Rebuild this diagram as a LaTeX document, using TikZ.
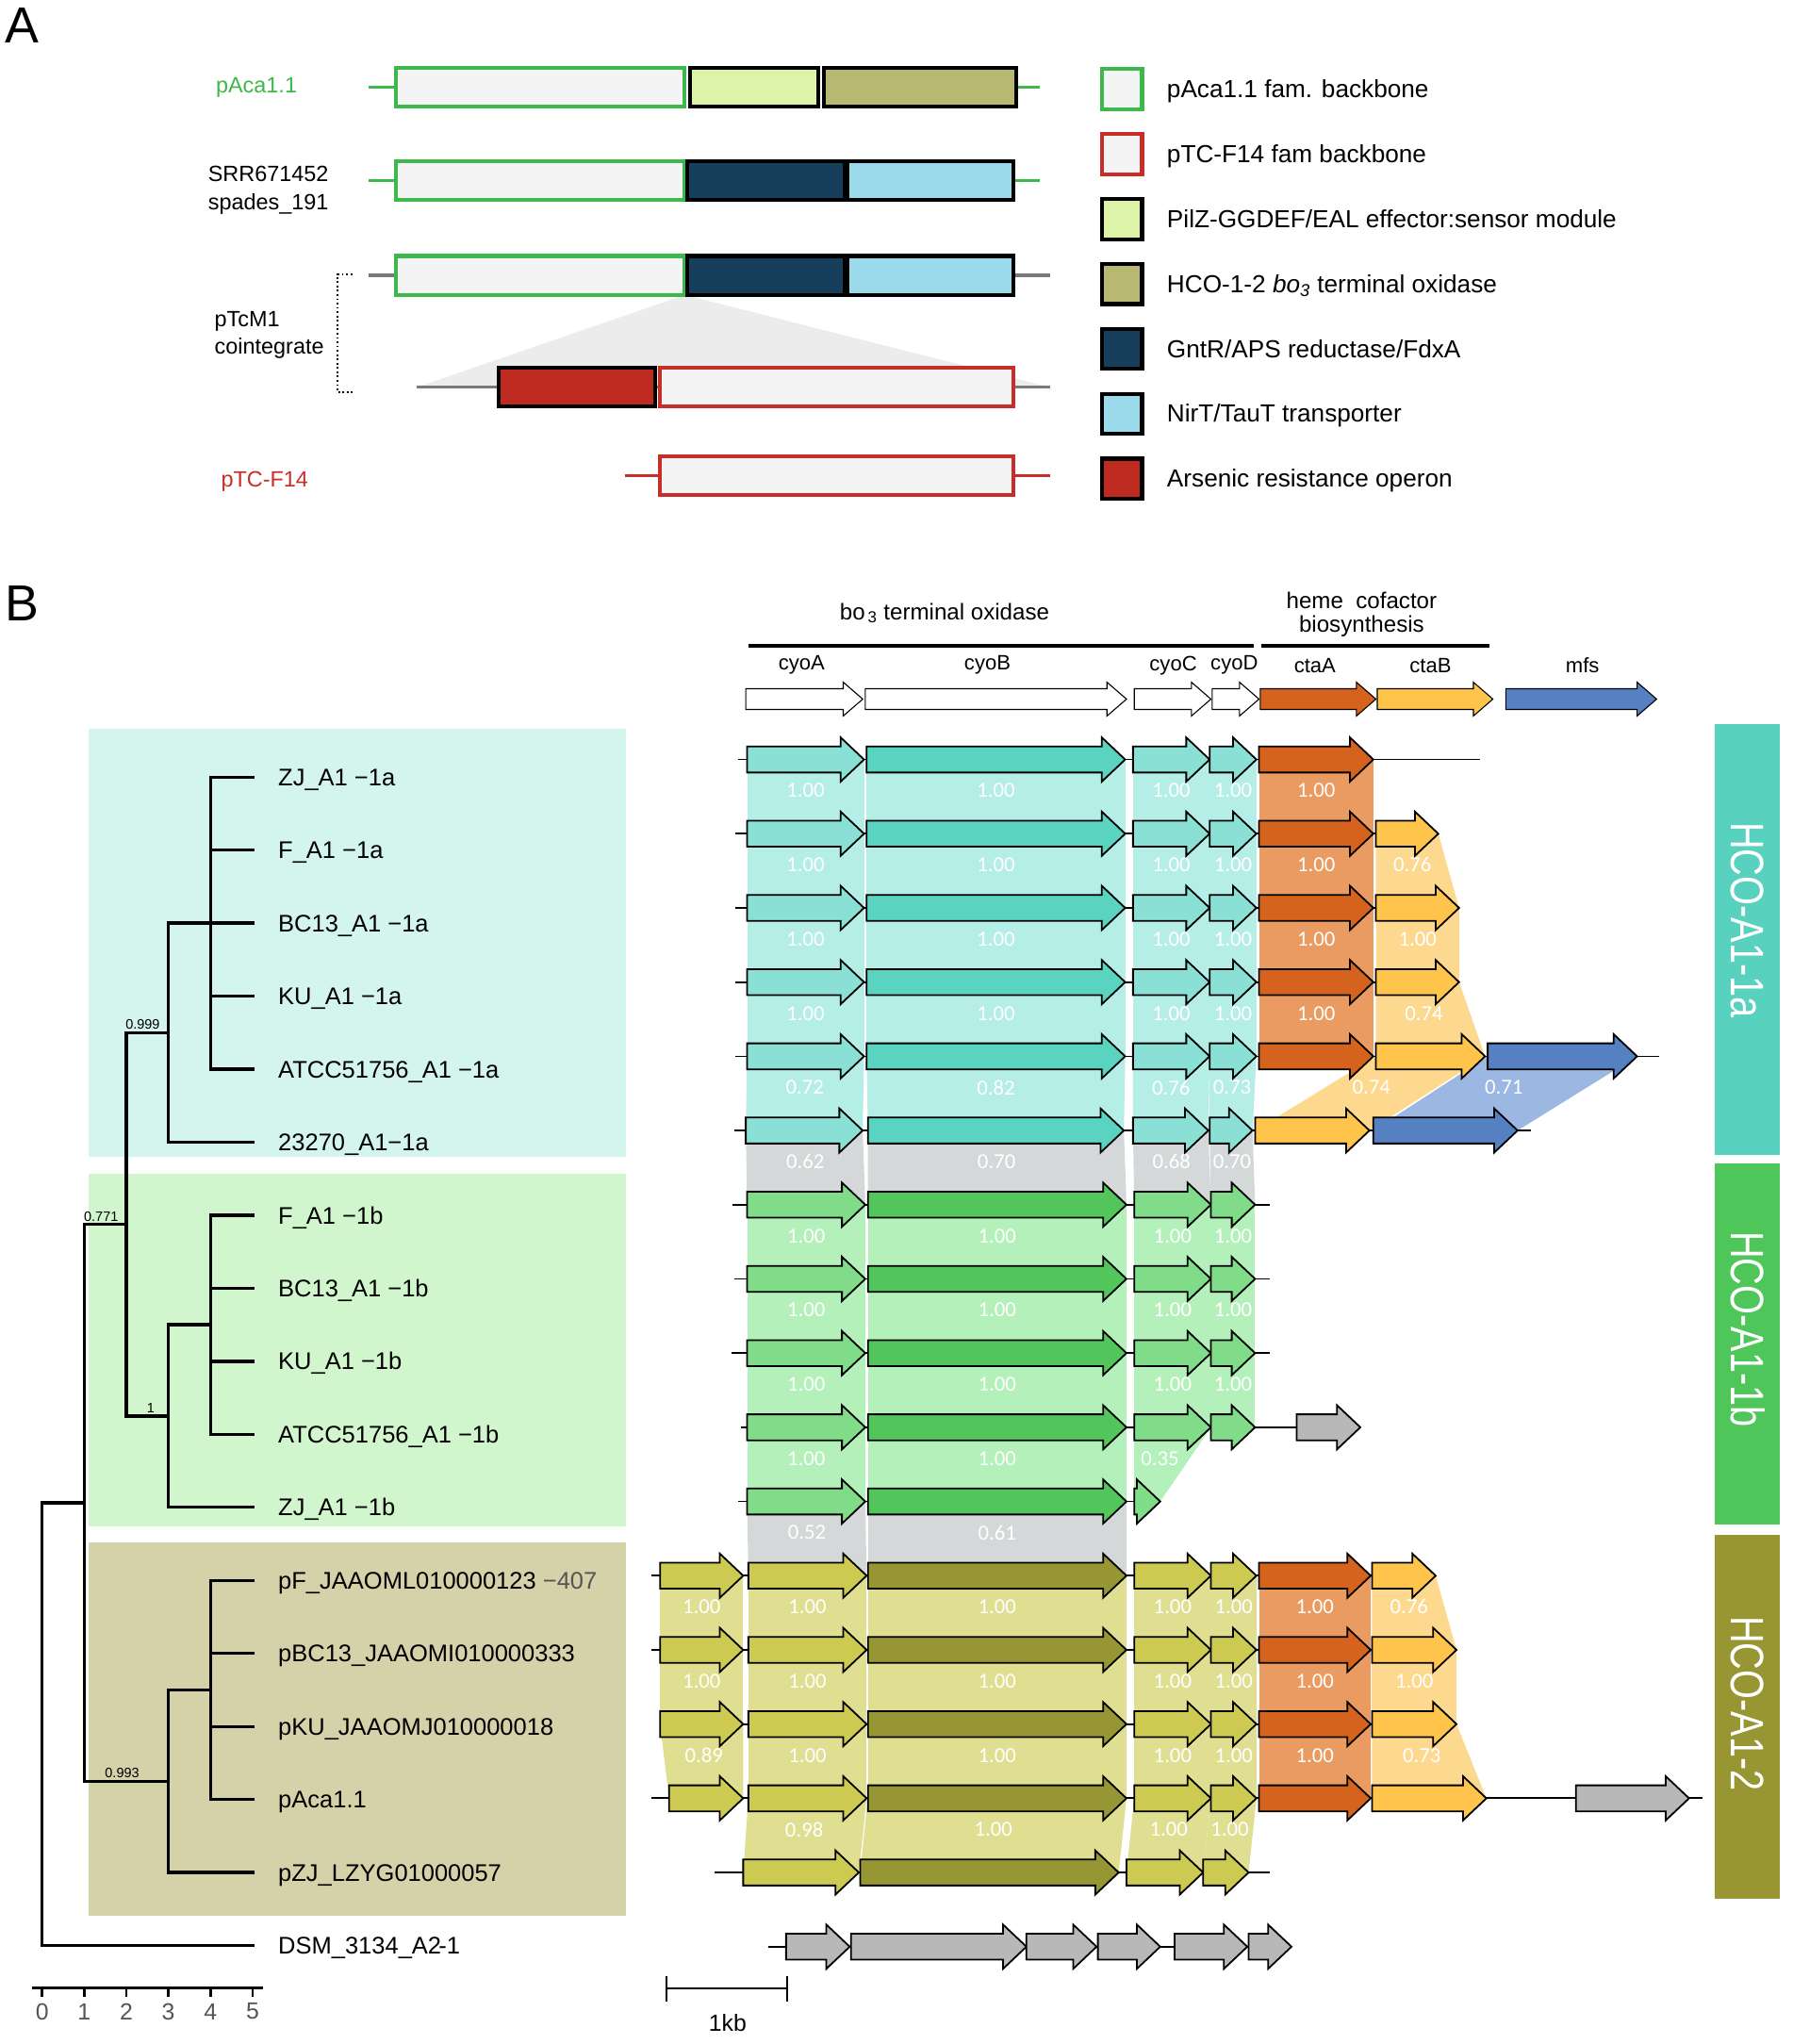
\documentclass[tikz,border=0pt]{standalone}
\usepackage{fontspec}
\setmainfont{Liberation Sans}
\newfontfamily\numfont{Carlito}
\usepackage{graphicx}
\definecolor{pgreen}{HTML}{3DB84A}
\definecolor{pred}{HTML}{C62E27}
\definecolor{pfill}{HTML}{F4F4F4}
\definecolor{pyg}{HTML}{DDF4A8}
\definecolor{polive}{HTML}{B8B872}
\definecolor{pnavy}{HTML}{173F5C}
\definecolor{plblue}{HTML}{9ADAEA}
\definecolor{pars}{HTML}{BE2A20}
\definecolor{pline}{HTML}{7A7A7A}
\definecolor{ptri}{HTML}{ECECEC}
\definecolor{tealL}{HTML}{8AE0D5}
\definecolor{tealD}{HTML}{5AD3C1}
\definecolor{grnL}{HTML}{80DC88}
\definecolor{grnD}{HTML}{52C65B}
\definecolor{olvL}{HTML}{CDCA52}
\definecolor{olvD}{HTML}{979634}
\definecolor{ctaA}{HTML}{D5631D}
\definecolor{ctaB}{HTML}{FFC44C}
\definecolor{mfsC}{HTML}{5580C2}
\definecolor{ggray}{HTML}{B8B8B8}
\definecolor{bTeal}{HTML}{B5EDE7}
\definecolor{bGrn}{HTML}{B4F0B9}
\definecolor{bOlv}{HTML}{DFDE91}
\definecolor{bOra}{HTML}{E99B62}
\definecolor{bYel}{HTML}{FDD98F}
\definecolor{bBlu}{HTML}{9BB7E2}
\definecolor{bGry}{HTML}{D5D8D9}
\definecolor{cTeal}{HTML}{D3F5EE}
\definecolor{cGrn}{HTML}{D1F5CC}
\definecolor{cOlv}{HTML}{D5D1A9}
\definecolor{sTeal}{HTML}{58D1BF}
\definecolor{sGrn}{HTML}{4FC65A}
\definecolor{sOlv}{HTML}{989632}
\definecolor{dgray}{HTML}{555555}
\newcounter{nl}
\newcommand{\gn}[4]{\filldraw[genestyle, fill=#4] ({#1},{#3-10}) -- ({#2-18},{#3-10}) -- ({#2-18},{#3-17}) -- ({#2},{#3}) -- ({#2-18},{#3+17}) -- ({#2-18},{#3+10}) -- ({#1},{#3+10}) -- cycle;}
\newcommand{\hgn}[4]{\filldraw[hgenestyle, fill=#4] ({#1},{#3-8}) -- ({#2-15},{#3-8}) -- ({#2-15},{#3-13}) -- ({#2},{#3}) -- ({#2-15},{#3+13}) -- ({#2-15},{#3+8}) -- ({#1},{#3+8}) -- cycle;}
\newcommand{\gline}[3]{\draw[rowline] ({#1},{#3}) -- ({#2},{#3});}
\newcommand{\bnd}[8]{\fill[#7] ({#1},{#3}) -- ({#2},{#3}) -- ({#5},{#6}) -- ({#4},{#6}) -- cycle;%
  \stepcounter{nl}\node[numlab] (num\arabic{nl}) at ({(#1+#2+#4+#5)/4},{#3+24}) {#8};}
% standard rows
\newcommand{\rowA}[1]{\gn{575}{665}{#1}{tealL}\gn{667}{866}{#1}{tealD}\gn{872}{931}{#1}{tealL}\gn{931}{967}{#1}{tealL}\gn{969}{1057}{#1}{ctaA}}
\newcommand{\rowB}[1]{\gn{575}{666}{#1}{grnL}\gn{668}{867}{#1}{grnD}\gn{873}{932}{#1}{grnL}\gn{932}{966}{#1}{grnL}}
\newcommand{\rowC}[1]{\gn{576}{667}{#1}{olvL}\gn{668}{867}{#1}{olvD}\gn{873}{932}{#1}{olvL}\gn{932}{967}{#1}{olvL}\gn{969}{1055}{#1}{ctaA}}
\newcommand{\bandA}[2]{\bnd{575}{665}{#1}{575}{665}{#2}{bTeal}{1.00}\bnd{667}{866}{#1}{667}{866}{#2}{bTeal}{1.00}\bnd{872}{931}{#1}{872}{931}{#2}{bTeal}{1.00}\bnd{931}{967}{#1}{931}{967}{#2}{bTeal}{1.00}\bnd{969}{1057}{#1}{969}{1057}{#2}{bOra}{1.00}}
\newcommand{\bandB}[2]{\bnd{575}{666}{#1}{575}{666}{#2}{bGrn}{1.00}\bnd{668}{867}{#1}{668}{867}{#2}{bGrn}{1.00}\bnd{873}{932}{#1}{873}{932}{#2}{bGrn}{1.00}\bnd{932}{966}{#1}{932}{966}{#2}{bGrn}{1.00}}
\newcommand{\bandC}[2]{\bnd{576}{667}{#1}{576}{667}{#2}{bOlv}{1.00}\bnd{668}{867}{#1}{668}{867}{#2}{bOlv}{1.00}\bnd{873}{932}{#1}{873}{932}{#2}{bOlv}{1.00}\bnd{932}{967}{#1}{932}{967}{#2}{bOlv}{1.00}\bnd{969}{1055}{#1}{969}{1055}{#2}{bOra}{1.00}}
\begin{document}
\begin{tikzpicture}[x=1pt,y=-1pt,
  genestyle/.style={draw=black, line width=1.3pt, line join=miter},
  hgenestyle/.style={draw=black, line width=0.8pt, line join=miter},
  rowline/.style={draw=black, line width=1.3pt},
  numlab/.style={font=\numfont\fontsize{16.5}{16.5}\selectfont, text=white, inner sep=0pt},
  treeline/.style={line width=2.4pt, line cap=rect},
  leaflab/.style={anchor=base west, inner sep=0pt, font=\fontsize{18.5}{20}\selectfont},
  suplab/.style={inner sep=1pt, font=\fontsize{10.5}{11}\selectfont},
  alab/.style={anchor=base west, inner sep=0pt, font=\fontsize{17}{19}\selectfont},
  leglab/.style={anchor=base west, inner sep=0pt, font=\fontsize{19}{21}\selectfont},
  pbox/.style={line width=3pt},
  hdr/.style={inner sep=0pt, font=\fontsize{17.5}{19}\selectfont},
  glab/.style={inner sep=0pt, font=\fontsize{16}{18}\selectfont},
  panel/.style={anchor=base west, inner sep=0pt, font=\fontsize{39}{40}\selectfont}]
\fill[white] (0,0) rectangle (1380,1573);
\useasboundingbox (0,0) rectangle (1380,1573);

%% ================= Panel A =================
\node[panel] (labA) at (4,33) {A};
% row 1 pAca1.1
\draw[pgreen, line width=2.5pt] (284,67) -- (305,67) (782,67) -- (800,67);
\filldraw[pbox, fill=pfill, draw=pgreen] (305,52) rectangle (527,82);
\filldraw[pbox, fill=pyg, draw=black] (531,52) rectangle (630,82);
\filldraw[pbox, fill=polive, draw=black] (634,52) rectangle (782,82);
% row 2 SRR
\draw[pgreen, line width=2.5pt] (284,139) -- (305,139) (780,139) -- (800,139);
\filldraw[pbox, fill=pfill, draw=pgreen] (305,124) rectangle (527,154);
\filldraw[pbox, fill=pnavy, draw=black] (529,124) rectangle (650,154);
\filldraw[pbox, fill=plblue, draw=black] (652,124) rectangle (780,154);
% row 3 pTcM1 top
\draw[pline, line width=2.5pt] (284,212) -- (305,212) (780,212) -- (808,212);
\fill[ptri] (527,227) -- (321,298) -- (808,298) -- cycle;
\filldraw[pbox, fill=pfill, draw=pgreen] (305,197) rectangle (527,227);
\filldraw[pbox, fill=pnavy, draw=black] (529,197) rectangle (650,227);
\filldraw[pbox, fill=plblue, draw=black] (652,197) rectangle (780,227);
% row 4 cointegrate bottom
\draw[pline, line width=2.5pt] (321,298) -- (808,298);
\filldraw[pbox, fill=pars, draw=black] (384,283) rectangle (504,313);
\filldraw[pbox, fill=pfill, draw=pred] (508,283) rectangle (780,313);
% row 5 pTC-F14
\draw[pred, line width=2.5pt] (481,366) -- (508,366) (780,366) -- (808,366);
\filldraw[pbox, fill=pfill, draw=pred] (508,351) rectangle (780,381);
% bracket
\draw[dotted, line width=1.3pt] (271,211) -- (260,211) -- (260,302) -- (271,302);
% labels
\node[alab, text=pgreen] (tA1) at (166,71.5) {pAca1.1};
\node[alab] (tA2) at (160,139.5) {SRR671452};
\node[alab] (tA3) at (160,161.5) {spades\_191};
\node[alab] (tA4) at (165,251.5) {pTcM1};
\node[alab] (tA5) at (165,272.5) {cointegrate};
\node[alab, text=pred] (tA6) at (170,374.5) {pTC-F14};
% legend
\filldraw[pbox, fill=pfill, draw=pgreen] (848,53) rectangle (879,84);
\filldraw[pbox, fill=pfill, draw=pred] (848,103) rectangle (879,134);
\filldraw[pbox, fill=pyg, draw=black] (848,153) rectangle (879,184);
\filldraw[pbox, fill=polive, draw=black] (848,203) rectangle (879,234);
\filldraw[pbox, fill=pnavy, draw=black] (848,253) rectangle (879,284);
\filldraw[pbox, fill=plblue, draw=black] (848,303) rectangle (879,334);
\filldraw[pbox, fill=pars, draw=black] (848,353) rectangle (879,384);
\node[leglab] (lg1) at (898,75) {pAca1.1 fam. backbone};
\node[leglab] (lg2) at (898,125) {pTC-F14 fam backbone};
\node[leglab] (lg3) at (898,175) {PilZ-GGDEF/EAL effector:sensor module};
\node[leglab] (lg4) at (898,225) {HCO-1-2 \textit{bo\textsubscript{3}} terminal oxidase};
\node[leglab] (lg5) at (898,275) {GntR/APS reductase/FdxA};
\node[leglab] (lg6) at (898,325) {NirT/TauT transporter};
\node[leglab] (lg7) at (898,375) {Arsenic resistance operon};

%% ================= Panel B =================
\node[panel] (labB) at (4,478) {B};
% header
\node[hdr] (hbo) at (727,472) {bo\textsubscript{\,3} terminal oxidase};
\node[hdr] (hheme) at (1048,462) {heme\ \ cofactor};
\node[hdr] (hbio) at (1048,482) {biosynthesis};
\draw[line width=3.5pt] (576,497) -- (965,497);
\draw[line width=3.5pt] (971,497) -- (1146,497);
\node[glab] (gA) at (617,512) {cyoA};
\node[glab] (gB) at (760,512) {cyoB};
\node[glab] (gC) at (903,512) {cyoC};
\node[glab] (gD) at (950,512) {cyoD};
\node[glab] (gE) at (1012,512) {ctaA};
\node[glab] (gF) at (1101,512) {ctaB};
\node[glab] (gG) at (1218,512) {mfs};
\hgn{574}{664}{538}{white}\hgn{666}{867}{538}{white}\hgn{873}{932}{538}{white}\hgn{933}{969}{538}{white}
\hgn{970}{1059}{538}{ctaA}\hgn{1060}{1149}{538}{ctaB}\hgn{1159}{1275}{538}{mfsC}

% clade backgrounds
\fill[cTeal] (68,561) rectangle (482,890);
\fill[cGrn] (68,903) rectangle (482,1175);
\fill[cOlv] (68,1187) rectangle (482,1474);

% ---------- bands ----------
\bandA{584.5}{641.6}
\bandA{641.6}{698.7}
\bnd{1059}{1107}{641.6}{1059}{1123}{698.7}{bYel}{0.76}
\bandA{698.7}{755.8}
\bnd{1059}{1123}{698.7}{1059}{1123}{755.8}{bYel}{1.00}
\bandA{755.8}{812.9}
\bnd{1059}{1123}{755.8}{1059}{1143}{812.9}{bYel}{0.74}
% 4->5
\bnd{575}{665}{812.9}{574}{664}{870.0}{bTeal}{0.72}
\bnd{667}{866}{812.9}{668}{865}{870.0}{bTeal}{0.82}
\bnd{872}{931}{812.9}{872}{930}{870.0}{bTeal}{0.76}
\bnd{931}{967}{812.9}{931}{964}{870.0}{bTeal}{0.73}
\bnd{1059}{1143}{812.9}{966}{1054}{870.0}{bYel}{0.74}
\bnd{1145}{1260}{812.9}{1057}{1168}{870.0}{bBlu}{0.71}
% 5->6 gray
\bnd{574}{664}{870.0}{575}{666}{927.1}{bGry}{0.62}
\bnd{668}{865}{870.0}{668}{867}{927.1}{bGry}{0.70}
\bnd{872}{930}{870.0}{873}{932}{927.1}{bGry}{0.68}
\bnd{931}{964}{870.0}{932}{966}{927.1}{bGry}{0.70}
% green
\bandB{927.1}{984.2}
\bandB{984.2}{1041.3}
\bandB{1041.3}{1098.4}
\bnd{575}{666}{1098.4}{575}{666}{1155.5}{bGrn}{1.00}
\bnd{668}{867}{1098.4}{668}{867}{1155.5}{bGrn}{1.00}
\bnd{873}{932}{1098.4}{873}{893}{1155.5}{bGrn}{0.35}
% 10->11 gray
\bnd{575}{666}{1155.5}{576}{667}{1212.6}{bGry}{0.52}
\bnd{668}{867}{1155.5}{668}{867}{1212.6}{bGry}{0.61}
% olive
\bnd{508}{572}{1212.6}{508}{572}{1269.7}{bOlv}{1.00}
\bandC{1212.6}{1269.7}
\bnd{1056}{1105}{1212.6}{1056}{1121}{1269.7}{bYel}{0.76}
\bnd{508}{572}{1269.7}{508}{572}{1326.8}{bOlv}{1.00}
\bandC{1269.7}{1326.8}
\bnd{1056}{1121}{1269.7}{1056}{1121}{1326.8}{bYel}{1.00}
\bnd{508}{572}{1326.8}{515}{572}{1383.9}{bOlv}{0.89}
\bandC{1326.8}{1383.9}
\bnd{1056}{1121}{1326.8}{1056}{1144}{1383.9}{bYel}{0.73}
\bnd{576}{667}{1383.9}{572}{661}{1441.0}{bOlv}{0.98}
\bnd{668}{867}{1383.9}{662}{861}{1441.0}{bOlv}{1.00}
\bnd{873}{932}{1383.9}{867}{926}{1441.0}{bOlv}{1.00}
\bnd{932}{967}{1383.9}{926}{961}{1441.0}{bOlv}{1.00}

% ---------- gene rows ----------
% HCO-A1-1a
\gline{568}{1139}{584.5}\rowA{584.5}
\gline{566}{1107}{641.6}\rowA{641.6}\gn{1059}{1107}{641.6}{ctaB}
\gline{566}{1123}{698.7}\rowA{698.7}\gn{1059}{1123}{698.7}{ctaB}
\gline{566}{1123}{755.8}\rowA{755.8}\gn{1059}{1123}{755.8}{ctaB}
\gline{566}{1277}{812.9}\rowA{812.9}\gn{1059}{1143}{812.9}{ctaB}\gn{1145}{1260}{812.9}{mfsC}
\gline{565}{1178}{870.0}
\gn{574}{664}{870.0}{tealL}\gn{668}{865}{870.0}{tealD}\gn{872}{930}{870.0}{tealL}\gn{931}{964}{870.0}{tealL}\gn{966}{1054}{870.0}{ctaB}\gn{1057}{1168}{870.0}{mfsC}
% HCO-A1-1b
\gline{564}{977}{927.1}\rowB{927.1}
\gline{565}{977}{984.2}\rowB{984.2}
\gline{563}{977}{1041.3}\rowB{1041.3}
\gline{570}{1047}{1098.4}\rowB{1098.4}\gn{998}{1047}{1098.4}{ggray}
\gline{568}{873}{1155.5}\gn{575}{666}{1155.5}{grnL}\gn{668}{867}{1155.5}{grnD}\gn{873}{893}{1155.5}{grnL}
% HCO-A1-2
\gline{501}{1105}{1212.6}\gn{508}{572}{1212.6}{olvL}\rowC{1212.6}\gn{1056}{1105}{1212.6}{ctaB}
\gline{501}{1121}{1269.7}\gn{508}{572}{1269.7}{olvL}\rowC{1269.7}\gn{1056}{1121}{1269.7}{ctaB}
\gline{508}{1121}{1326.8}\gn{508}{572}{1326.8}{olvL}\rowC{1326.8}\gn{1056}{1121}{1326.8}{ctaB}
\gline{501}{1310}{1383.9}\gn{515}{572}{1383.9}{olvL}\rowC{1383.9}\gn{1056}{1144}{1383.9}{ctaB}\gn{1213}{1300}{1383.9}{ggray}
\gline{550}{977}{1441.0}\gn{572}{661}{1441.0}{olvL}\gn{662}{861}{1441.0}{olvD}\gn{867}{926}{1441.0}{olvL}\gn{926}{961}{1441.0}{olvL}
% DSM
\gline{591}{994}{1498.1}
\gn{605}{654}{1498.1}{ggray}\gn{655}{790}{1498.1}{ggray}\gn{790}{844}{1498.1}{ggray}\gn{845}{893}{1498.1}{ggray}\gn{904}{960}{1498.1}{ggray}\gn{961}{994}{1498.1}{ggray}

% ---------- side bars ----------
\fill[sTeal] (1320,557) rectangle (1370,889);
\fill[sGrn] (1320,895) rectangle (1370,1173);
\fill[sOlv] (1320,1181) rectangle (1370,1461);
\node[rotate=-90, text=white, inner sep=0pt] (hco1) at (1345,708) {\scalebox{0.8}[1]{\fontsize{36}{36}\selectfont HCO-A1-1a}};
\node[rotate=-90, text=white, inner sep=0pt] (hco2) at (1345,1023) {\scalebox{0.8}[1]{\fontsize{36}{36}\selectfont HCO-A1-1b}};
\node[rotate=-90, text=white, inner sep=0pt] (hco3) at (1345,1311) {\scalebox{0.8}[1]{\fontsize{36}{36}\selectfont HCO-A1-2}};

% ---------- tree ----------
\foreach \i in {0,1,2,3,4,6,7,8,9,11,12,13,14}{
  \pgfmathsetmacro\ly{598+56.2*\i}
  \draw[treeline] (162,\ly) -- (194.4,\ly);
}
\draw[treeline] (162,598) -- (162,822.8);
\draw[treeline] (129.6,710.4) -- (162,710.4);
\draw[treeline] (129.6,710.4) -- (129.6,879) -- (194.4,879);
\draw[treeline] (97.2,794.7) -- (129.6,794.7);
\draw[treeline] (162,935.2) -- (162,1103.8);
\draw[treeline] (129.6,1019.5) -- (162,1019.5);
\draw[treeline] (129.6,1019.5) -- (129.6,1160) -- (194.4,1160);
\draw[treeline] (97.2,1089.8) -- (129.6,1089.8);
\draw[treeline] (97.2,794.7) -- (97.2,1089.8);
\draw[treeline] (64.8,942.2) -- (97.2,942.2);
\draw[treeline] (162,1216.2) -- (162,1384.8);
\draw[treeline] (129.6,1300.5) -- (162,1300.5);
\draw[treeline] (129.6,1300.5) -- (129.6,1441) -- (194.4,1441);
\draw[treeline] (64.8,1370.8) -- (129.6,1370.8);
\draw[treeline] (64.8,942.2) -- (64.8,1370.8);
\draw[treeline] (32.4,1156.5) -- (64.8,1156.5);
\draw[treeline] (32.4,1156.5) -- (32.4,1497.2) -- (194.4,1497.2);
\node[suplab, anchor=south west] (s1) at (95.5,793.5) {0.999};
\node[suplab, anchor=south west] (s2) at (63.5,941) {0.771};
\node[suplab, anchor=south] (s3) at (116,1088.6) {1};
\node[suplab, anchor=south] (s4) at (94,1369.6) {0.993};
\foreach \i/\t in {0/{ZJ\_A1 −1a},1/{F\_A1 −1a},2/{BC13\_A1 −1a},3/{KU\_A1 −1a},4/{ATCC51756\_A1 −1a},5/{23270\_A1−1a},6/{F\_A1 −1b},7/{BC13\_A1 −1b},8/{KU\_A1 −1b},9/{ATCC51756\_A1 −1b},10/{ZJ\_A1 −1b},11/{pF\_JAAOML010000123 \textcolor{dgray}{−407}},12/{pBC13\_JAAOMI010000333},13/{pKU\_JAAOMJ010000018},14/{pAca1.1},15/{pZJ\_LZYG01000057},16/{DSM\_3134\_A2\kern-2pt-1}}{
  \pgfmathsetmacro\ly{598+56.2*\i+6.6}
  \node[leaflab] (leaf\i) at (214,\ly) {\t};
}
% tree scale
\draw[line width=2pt] (25,1530) -- (202.5,1530);
\foreach \k in {0,...,5}{
  \pgfmathsetmacro\tx{32.4+32.4*\k}
  \draw[line width=1.8pt] (\tx,1530) -- (\tx,1537);
  \node[inner sep=0pt, text=dgray, font=\fontsize{18}{18}\selectfont] (sc\k) at (\tx,1548) {\k};
}
% 1kb scale
\draw[line width=1.5pt] (513,1530) -- (606,1530);
\draw[line width=1.5pt] (513,1521) -- (513,1540) (606,1521) -- (606,1540);
\node[inner sep=0pt, font=\fontsize{18}{18}\selectfont] (kb) at (560,1557) {1kb};
\end{tikzpicture}
\end{document}
